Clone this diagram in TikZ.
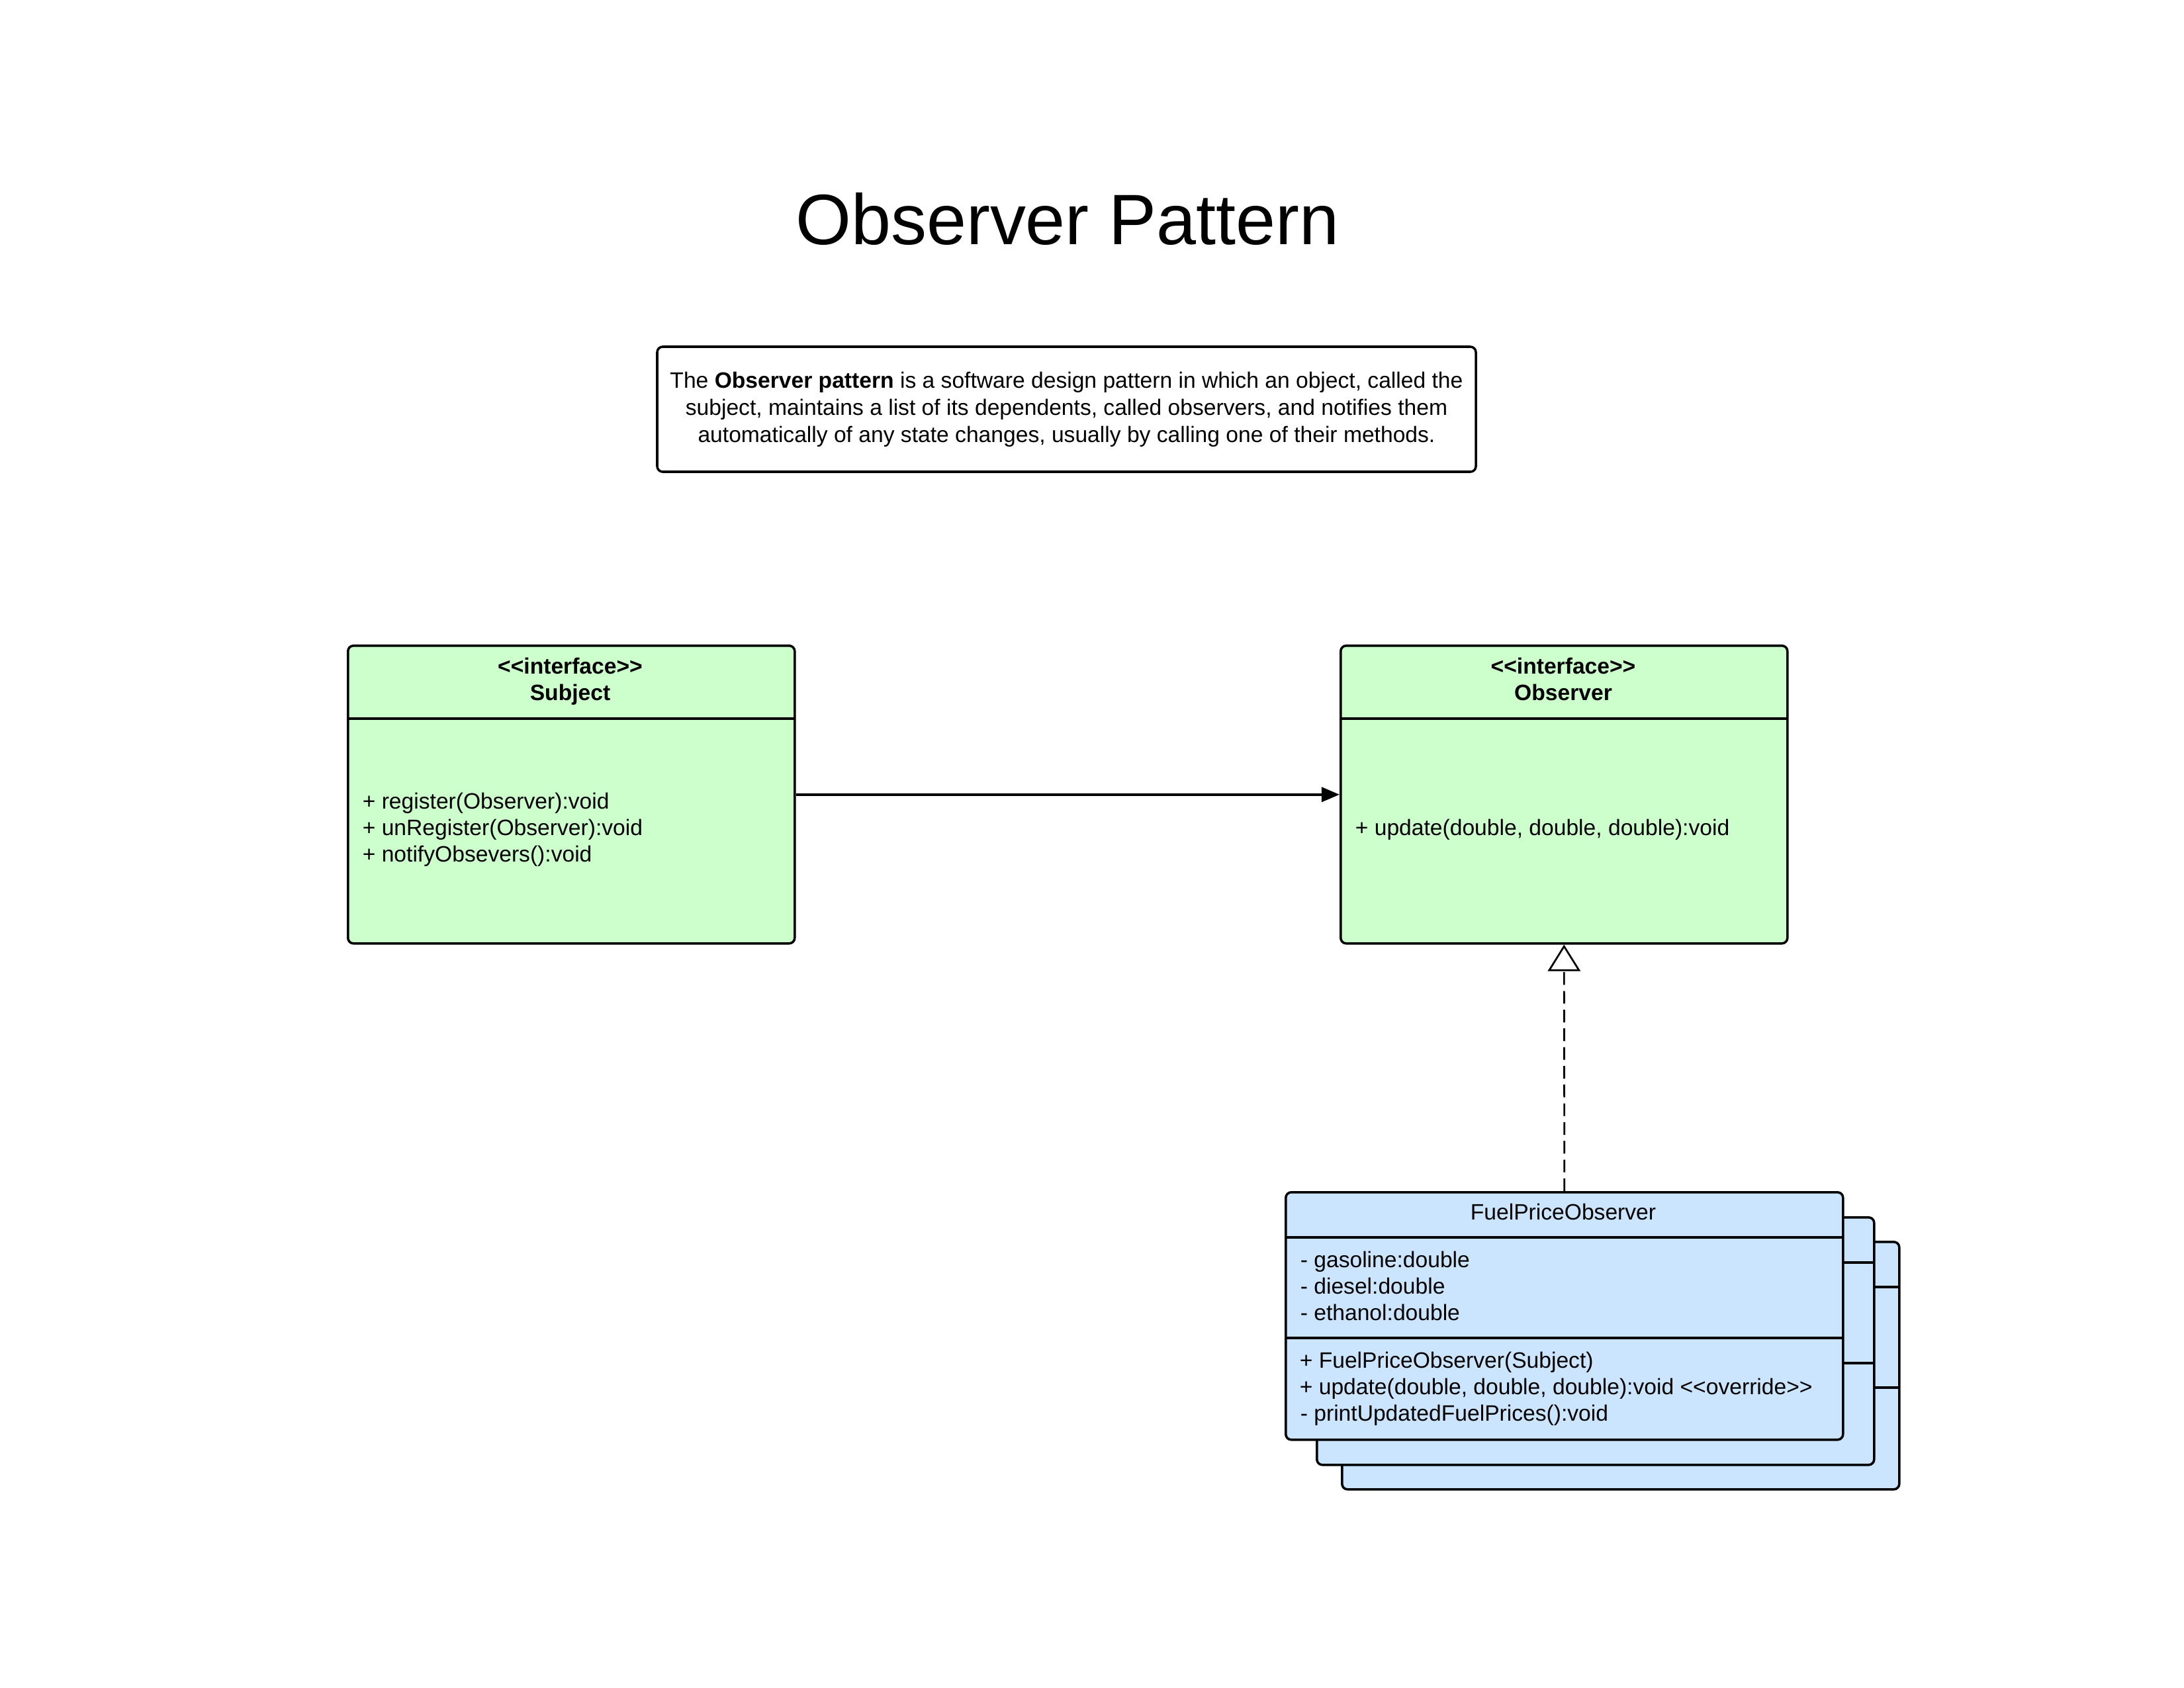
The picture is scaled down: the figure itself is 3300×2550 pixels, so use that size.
\documentclass[tikz,border=0pt]{standalone}
\usepackage{fontspec}
\setmainfont{Liberation Sans}
\usetikzlibrary{arrows.meta}
\definecolor{umlgreen}{HTML}{CCFFCC}
\definecolor{umlblue}{HTML}{CCE5FF}
\newcommand\lguil{<\kern0pt<}
\newcommand\rguil{>\kern0pt>}
\begin{document}
\begin{tikzpicture}[x=0.24pt,y=-0.24pt,
  classbox/.style={draw=black, line width=0.85pt, rounded corners=2pt, inner sep=0pt, anchor=north west},
  smallbox/.style={classbox, minimum width={675*0.24pt}, minimum height={450*0.24pt}, fill=umlgreen},
  fuelbox/.style={classbox, minimum width={842*0.24pt}, minimum height={374*0.24pt}, fill=umlblue},
  txt/.style={font=\fontsize{8.07}{9.8}\selectfont, inner sep=0pt, anchor=mid west},
  ctxt/.style={font=\fontsize{8.07}{9.8}\selectfont, inner sep=0pt, anchor=mid},
  btxt/.style={font=\fontsize{8.07}{9.8}\selectfont\bfseries, inner sep=0pt, anchor=mid},
  divider/.style={line width=0.85pt}]
\useasboundingbox (0,0) rectangle (3300,2550);

% title
\node[font=\fontsize{25.9}{30}\selectfont, inner sep=0pt, anchor=base] (title) at (1613,369) {Observer Pattern};

% description
\node[draw=black, line width=0.85pt, rounded corners=2pt, minimum width={1237*0.24pt}, minimum height={189*0.24pt},
      align=center, font=\fontsize{8.07}{9.8}\selectfont, inner sep=0pt] (desc) at (1611.5,618.5)
  {The \textbf{Observer pattern} is a software design pattern in which an object, called the\\
   subject, maintains a list of its dependents, called observers, and notifies them\\
   automatically of any state changes, usually by calling one of their methods.};

% Subject
\node[smallbox] (subj) at (524,974) {};
\draw[divider] (524,1086) -- (1199,1086);
\node[btxt] (subjst) at (861.5,1007) {\lguil interface\rguil};
\node[btxt] (subjname) at (861.5,1047) {Subject};
\node[txt] (sm1) at (547,1211) {+ register(Observer):void};
\node[txt] (sm2) at (547,1251) {+ unRegister(Observer):void};
\node[txt] (sm3) at (547,1291) {+ notifyObsevers():void};

% Observer
\node[smallbox] (obs) at (2024,974) {};
\draw[divider] (2024,1086) -- (2700,1086);
\node[btxt] (obsst) at (2362,1007) {\lguil interface\rguil};
\node[btxt] (obsname) at (2362,1047) {Observer};
\node[txt] (om1) at (2047,1251) {+ update(double, double, double):void};

% association arrow
\draw[line width=0.85pt, -{Triangle[length=6.5pt,width=5.3pt]}] (subj.east) -- (obs.west);

% FuelPriceObserver stack
\node[fuelbox] (fuel3) at (2026,1875) {};
\draw[divider] (2026,1945) -- (2868,1945);
\draw[divider] (2026,2097) -- (2868,2097);
\node[fuelbox] (fuel2) at (1988,1838) {};
\draw[divider] (1988,1908) -- (2830,1908);
\draw[divider] (1988,2060) -- (2830,2060);
\node[fuelbox] (fuel) at (1941,1800) {};
\draw[divider] (1941,1870) -- (2783,1870);
\draw[divider] (1941,2022) -- (2783,2022);
\node[ctxt] (fuelname) at (2362,1832) {FuelPriceObserver};
\node[txt] (fa1) at (1964,1904) {- gasoline:double};
\node[txt] (fa2) at (1964,1944) {- diesel:double};
\node[txt] (fa3) at (1964,1984) {- ethanol:double};
\node[txt] (fm1) at (1963,2056) {+ FuelPriceObserver(Subject)};
\node[txt] (fm2) at (1963,2096) {+ update(double, double, double):void \lguil override\rguil};
\node[txt] (fm3) at (1964,2136) {- printUpdatedFuelPrices():void};

% realization
\draw[line width=0.65pt, dash pattern=on 4.6pt off 2.2pt,
      -{Triangle[length=9.6pt,width=11.8pt,fill=white,line width=0.65pt]}] (fuel.north) -- (obs.south);
\end{tikzpicture}
\end{document}
